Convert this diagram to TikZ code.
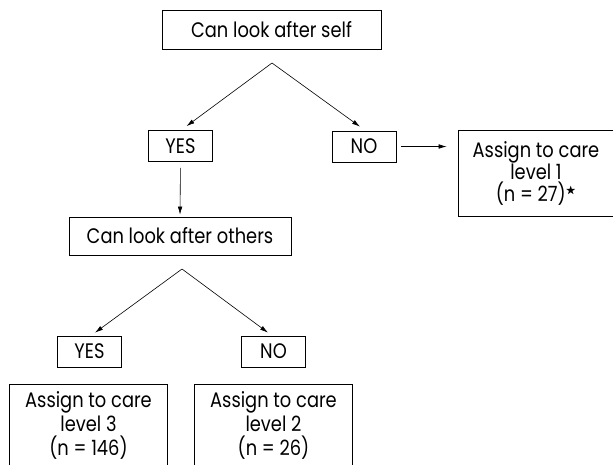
\documentclass[tikz,border=0pt]{standalone}
\usepackage{amssymb}
\usepackage{fontspec}
\setmainfont[FakeStretch=0.85]{Poppins}
\usetikzlibrary{arrows.meta}

\tikzset{
  box/.style={draw, line width=0.7pt, inner sep=0pt, align=center},
  ans/.style={box, minimum width=64pt, minimum height=31pt},
  lvl/.style={box, minimum width=158pt, font=\fontsize{21}{24}\selectfont}
}

\begin{document}
\begin{tikzpicture}[x=1pt, y=-1pt, >={Latex[length=8pt,width=4.5pt]}, font=\fontsize{21}{22}\selectfont]
	\useasboundingbox (0,0) rectangle (613,464);
	% first question
	\node [box, minimum width=219pt, minimum height=39pt] (self) at (271.5,29.5) {Can look after self};
	\coordinate (split1) at (272,63);
	\node [ans] (yes1) at (180.5,146) {YES};
	\node [ans] (no1) at (364,146.5) {NO};
	\node [box, minimum width=156pt, minimum height=86pt] (lvl1) at (536,173) {Assign to care\\level 1\\(n = 27)$^{\scriptscriptstyle\bigstar}$};
	\draw [->, line width=0.6pt] (split1) -- ([xshift=6pt,yshift=4pt]yes1.north);
	\draw [->, line width=0.6pt] (split1) -- ([xshift=-4pt,yshift=4pt]no1.north);
	\draw [->, line width=0.6pt, shorten <=5pt, shorten >=11pt] (no1.east) -- (no1.east -| lvl1.west);
	% second question
	\node [box, minimum width=222pt, minimum height=38pt] (others) at (180,236) {Can look after others};
	\draw [->, line width=0.6pt, shorten <=6pt, shorten >=2pt] (yes1.south) -- (others.north);
	\coordinate (split2) at (182,269);
	\node [ans] (yes2) at (89.5,351.5) {YES};
	\node [ans] (no2) at (273.5,351.5) {NO};
	\draw [->, line width=0.6pt] (split2) -- ([xshift=5.5pt,yshift=3pt]yes2.north);
	\draw [->, line width=0.6pt] (split2) -- ([xshift=-5.5pt,yshift=3pt]no2.north);
	\node [lvl, minimum height=84pt, anchor=north] (lvl3) at (88.5,383.5) {Assign to care\\level 3\\(n = 146)};
	\node [lvl, minimum height=84pt, anchor=north] (lvl2) at (273.5,383.5) {Assign to care\\level 2\\(n = 26)};
\end{tikzpicture}
\end{document}
